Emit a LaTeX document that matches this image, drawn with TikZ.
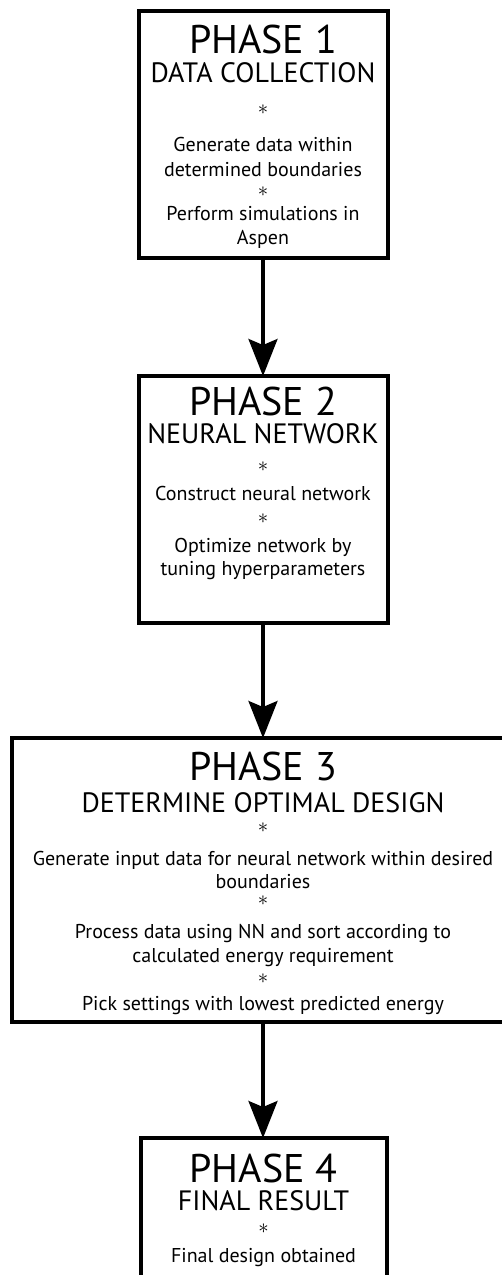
\documentclass[tikz,border=0pt]{standalone}
\usepackage{fontspec}
\setmainfont{PT Sans}
\usetikzlibrary{arrows.meta,positioning}
\tikzset{
  phase/.style={
    draw,
    line width=4pt,
    outer sep=0pt,
    inner sep=0pt
  },
  phasetext/.style={
    anchor=north,
    align=center,
    inner sep=0pt,
    font=\fontsize{20}{24}\selectfont
  },
  flow/.style={
    line width=3.2pt,
    -{Stealth[length=37pt,width=29pt,inset=6pt]}
  },
}
\newcommand{\phasehead}[1]{{\fontsize{40}{40}\selectfont PHASE #1}}
\newcommand{\phasesub}[1]{{\fontsize{28}{28}\selectfont #1}}
\newcommand{\phasestar}{\smash{\raisebox{6pt}{$\ast$}}}

\begin{document}
\begin{tikzpicture}[x=1pt,y=-1pt]
  \useasboundingbox (0,0) rectangle (502,1275);
  \clip (0,0) rectangle (502,1275);
  \node[phase,minimum width=249pt,minimum height=247pt] (p1) at (263,134.5) {};
  \node[phase,minimum width=249pt,minimum height=247pt] (p2) at (263,499.5) {};
  \node[phase,minimum width=502pt,minimum height=284pt] (p3) at (263,880) {};
  \node[phase,minimum width=246pt,minimum height=247pt] (p4) at (263.5,1261.5) {};
  \node[phasetext,below=14pt of p1.north] (t1) {\phasehead{1}\\[5pt]
    \phasesub{DATA COLLECTION}\\[14pt]
    \phasestar\\[7pt]
    Generate data within\\[1pt]
    determined boundaries\\[2pt]
    \phasestar\\[-6pt]
    Perform simulations in\\
    Aspen};
  \node[phasetext,below=11pt of p2.north] (t2) {\phasehead{2}\\[4pt]
    \phasesub{NEURAL NETWORK}\\[10pt]
    \phasestar\\[-1pt]
    Construct neural network\\[5pt]
    \phasestar\\[-1pt]
    Optimize network by\\[-1pt]
    tuning hyperparameters};
  \node[phasetext,below=14pt of p3.north] (t3) {\phasehead{3}\\[8pt]
    \phasesub{DETERMINE OPTIMAL DESIGN}\\[2pt]
    \phasestar\\[3pt]
    Generate input data for neural network within desired\\[-1pt]
    boundaries\\[-1pt]
    \phasestar\\[3pt]
    Process data using NN and sort according to\\
    calculated energy requirement\\[3pt]
    \phasestar\\[-3pt]
    Pick settings with lowest predicted energy};
  \node[phasetext,below=16pt of p4.north] (t4) {\phasehead{4}\\[4pt]
    \phasesub{FINAL RESULT}\\[5pt]
    \phasestar\\[-1pt]
    Final design obtained};
  \foreach \a/\b in {p1/p2,p2/p3,p3/p4}
    \draw[flow] (\a.south) -- (\a.south |- \b.north);
\end{tikzpicture}
\end{document}
